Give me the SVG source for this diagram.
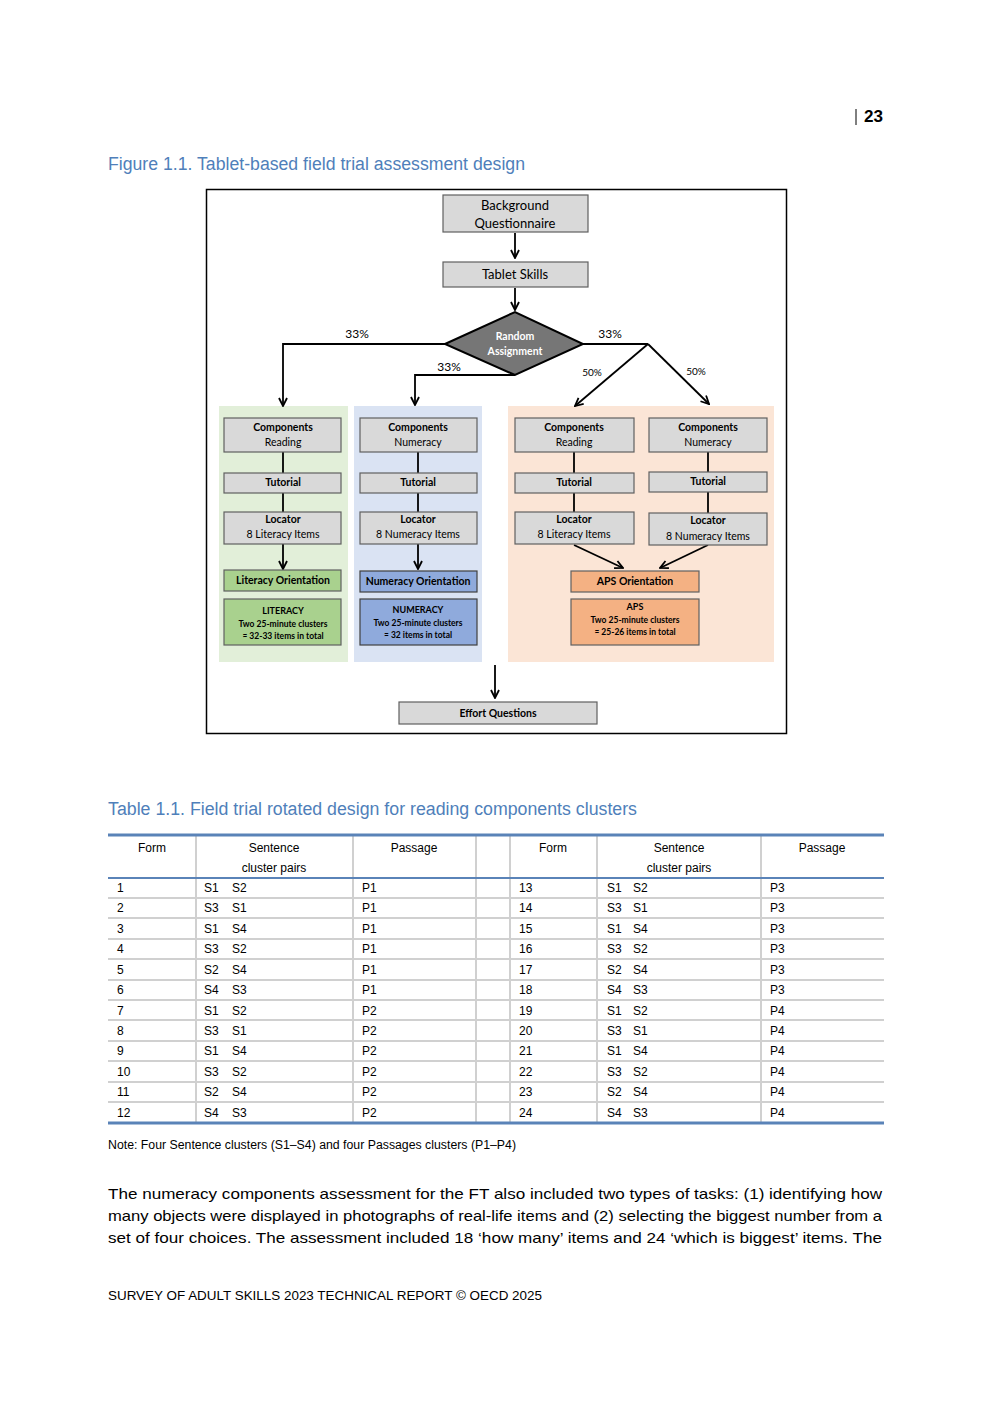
<svg xmlns="http://www.w3.org/2000/svg" width="992" height="1403" viewBox="0 0 992 1403">
<style>
.pg{font-family:"Liberation Sans",Arial,sans-serif;fill:#000}
.ttl{font-family:"Liberation Sans",Arial,sans-serif;font-size:18px;fill:#4f7fba}
.cal{font-family:Lato,"Open Sans",sans-serif;fill:#000}
.box{fill:#d9d9d9;stroke:#606060;stroke-width:1.2}
.ln{stroke:#000;stroke-width:1.8;fill:none}
.tc{font-family:"Liberation Sans",Arial,sans-serif;font-size:12px;fill:#000}
.sep{stroke:#d0d0d0;stroke-width:2}
.rule{stroke:#5a83b8}
</style>
<defs>
<marker id="arr" viewBox="0 0 10 10" refX="9" refY="5" markerWidth="10" markerHeight="10" markerUnits="userSpaceOnUse" orient="auto">
<path d="M1,1 L9,5 L1,9" fill="none" stroke="#000" stroke-width="1.8"/>
</marker>
</defs>
<rect width="992" height="1403" fill="#fff"/>

<!-- page header -->
<line x1="856" y1="109" x2="856" y2="125" stroke="#000" stroke-width="1"/>
<text class="pg" x="864" y="122" font-size="17" font-weight="bold" textLength="19" lengthAdjust="spacingAndGlyphs">23</text>
<text class="ttl" x="108" y="170" textLength="417" lengthAdjust="spacingAndGlyphs">Figure 1.1. Tablet-based field trial assessment design</text>

<!-- diagram frame -->
<rect x="206.5" y="189.5" width="580" height="544" fill="none" stroke="#000" stroke-width="1.5"/>

<!-- panels -->
<rect x="219" y="406" width="129" height="256" fill="#e2efd9"/>
<rect x="354" y="406" width="128" height="256" fill="#dae3f3"/>
<rect x="508" y="406" width="266" height="256" fill="#fbe5d6"/>

<g id="connectors">
<line class="ln" x1="515" y1="233" x2="515" y2="258" marker-end="url(#arr)"/>
<line class="ln" x1="515" y1="288" x2="515" y2="310" marker-end="url(#arr)"/>
<polyline class="ln" points="445,344 283,344 283,406" marker-end="url(#arr)"/>
<polyline class="ln" points="515,375 415,375 415,405" marker-end="url(#arr)"/>
<polyline class="ln" points="583,344 648,344"/>
<line class="ln" x1="648" y1="344" x2="575" y2="406" marker-end="url(#arr)"/>
<line class="ln" x1="648" y1="344" x2="709" y2="404" marker-end="url(#arr)"/>
<line class="ln" x1="283" y1="452" x2="283" y2="473"/>
<line class="ln" x1="283" y1="493" x2="283" y2="512"/>
<line class="ln" x1="283" y1="544" x2="283" y2="569" marker-end="url(#arr)"/>
<line class="ln" x1="418" y1="452" x2="418" y2="473"/>
<line class="ln" x1="418" y1="493" x2="418" y2="512"/>
<line class="ln" x1="418" y1="544" x2="418" y2="569" marker-end="url(#arr)"/>
<line class="ln" x1="574" y1="452" x2="574" y2="473"/>
<line class="ln" x1="574" y1="493" x2="574" y2="512"/>
<line class="ln" x1="708" y1="452" x2="708" y2="472"/>
<line class="ln" x1="708" y1="492" x2="708" y2="513"/>
<line class="ln" x1="574" y1="545" x2="623" y2="568" marker-end="url(#arr)"/>
<line class="ln" x1="708" y1="545" x2="660" y2="568" marker-end="url(#arr)"/>
<line class="ln" x1="495" y1="665" x2="495" y2="698" marker-end="url(#arr)"/>
<text class="cal" x="357" y="338" font-size="12" text-anchor="middle">33%</text>
<text class="cal" x="449" y="371" font-size="12" text-anchor="middle">33%</text>
<text class="cal" x="610" y="338" font-size="12" text-anchor="middle">33%</text>
<text class="cal" x="592" y="376" font-size="10" text-anchor="middle">50%</text>
<text class="cal" x="696" y="375" font-size="10" text-anchor="middle">50%</text>
</g>

<g id="bg-questionnaire">
<rect class="box" x="443" y="195" width="145" height="37"/>
<text class="cal" x="515" y="210" font-size="13" text-anchor="middle">Background</text>
<text class="cal" x="515" y="228" font-size="13" text-anchor="middle">Questionnaire</text>
</g>
<g id="tablet-skills">
<rect class="box" x="443" y="262" width="145" height="25"/>
<text class="cal" x="515" y="279" font-size="13" text-anchor="middle">Tablet Skills</text>
</g>
<g id="random-assignment">
<polygon points="445,344 515,312 583,344 515,375" fill="#767676" stroke="#000" stroke-width="2"/>
<text class="cal" x="515" y="340" font-size="10.5" font-weight="bold" text-anchor="middle" style="fill:#fff">Random</text>
<text class="cal" x="515" y="355" font-size="10.5" font-weight="bold" text-anchor="middle" style="fill:#fff">Assignment</text>
</g>

<!-- literacy column -->
<g id="lit-components">
<rect class="box" x="224" y="418" width="117" height="34"/>
<text class="cal" x="283" y="431" font-size="10.5" font-weight="bold" text-anchor="middle">Components</text>
<text class="cal" x="283" y="446" font-size="10.5" text-anchor="middle">Reading</text>
</g>
<g id="lit-tutorial">
<rect class="box" x="224" y="473" width="117" height="20"/>
<text class="cal" x="283" y="486" font-size="10.5" font-weight="bold" text-anchor="middle">Tutorial</text>
</g>
<g id="lit-locator">
<rect class="box" x="224" y="512" width="117" height="32"/>
<text class="cal" x="283" y="523" font-size="10.5" font-weight="bold" text-anchor="middle">Locator</text>
<text class="cal" x="283" y="538" font-size="10.5" text-anchor="middle">8 Literacy Items</text>
</g>
<g id="lit-orientation">
<rect x="224" y="570" width="117" height="21" fill="#a9d18e" stroke="#606060" stroke-width="1.2"/>
<text class="cal" x="283" y="584" font-size="10.5" font-weight="bold" text-anchor="middle">Literacy Orientation</text>
</g>
<g id="literacy">
<rect x="224" y="599" width="117" height="46" fill="#a9d18e" stroke="#606060" stroke-width="1.2"/>
<text class="cal" x="283" y="614" font-size="9" font-weight="bold" text-anchor="middle">LITERACY</text>
<text class="cal" x="283" y="627" font-size="8.5" font-weight="bold" text-anchor="middle">Two 25-minute clusters</text>
<text class="cal" x="283" y="639" font-size="8.5" font-weight="bold" text-anchor="middle">≈ 32-33 items in total</text>
</g>

<!-- numeracy column -->
<g id="num-components">
<rect class="box" x="360" y="418" width="117" height="34"/>
<text class="cal" x="418" y="431" font-size="10.5" font-weight="bold" text-anchor="middle">Components</text>
<text class="cal" x="418" y="446" font-size="10.5" text-anchor="middle">Numeracy</text>
</g>
<g id="num-tutorial">
<rect class="box" x="360" y="473" width="117" height="20"/>
<text class="cal" x="418" y="486" font-size="10.5" font-weight="bold" text-anchor="middle">Tutorial</text>
</g>
<g id="num-locator">
<rect class="box" x="360" y="512" width="117" height="32"/>
<text class="cal" x="418" y="523" font-size="10.5" font-weight="bold" text-anchor="middle">Locator</text>
<text class="cal" x="418" y="538" font-size="10.5" text-anchor="middle">8 Numeracy Items</text>
</g>
<g id="num-orientation">
<rect x="360" y="571" width="117" height="21" fill="#8faadc" stroke="#404040" stroke-width="1.2"/>
<text class="cal" x="418" y="585" font-size="10.5" font-weight="bold" text-anchor="middle">Numeracy Orientation</text>
</g>
<g id="numeracy">
<rect x="360" y="599" width="117" height="46" fill="#8faadc" stroke="#404040" stroke-width="1.2"/>
<text class="cal" x="418" y="613" font-size="9" font-weight="bold" text-anchor="middle">NUMERACY</text>
<text class="cal" x="418" y="626" font-size="8.5" font-weight="bold" text-anchor="middle">Two 25-minute clusters</text>
<text class="cal" x="418" y="638" font-size="8.5" font-weight="bold" text-anchor="middle">≈ 32 items in total</text>
</g>

<!-- APS column -->
<g id="aps-read-components">
<rect class="box" x="515" y="418" width="119" height="34"/>
<text class="cal" x="574" y="431" font-size="10.5" font-weight="bold" text-anchor="middle">Components</text>
<text class="cal" x="574" y="446" font-size="10.5" text-anchor="middle">Reading</text>
</g>
<g id="aps-read-tutorial">
<rect class="box" x="515" y="473" width="119" height="20"/>
<text class="cal" x="574" y="486" font-size="10.5" font-weight="bold" text-anchor="middle">Tutorial</text>
</g>
<g id="aps-read-locator">
<rect class="box" x="515" y="512" width="119" height="32"/>
<text class="cal" x="574" y="523" font-size="10.5" font-weight="bold" text-anchor="middle">Locator</text>
<text class="cal" x="574" y="538" font-size="10.5" text-anchor="middle">8 Literacy Items</text>
</g>
<g id="aps-num-components">
<rect class="box" x="649" y="418" width="118" height="34"/>
<text class="cal" x="708" y="431" font-size="10.5" font-weight="bold" text-anchor="middle">Components</text>
<text class="cal" x="708" y="446" font-size="10.5" text-anchor="middle">Numeracy</text>
</g>
<g id="aps-num-tutorial">
<rect class="box" x="649" y="472" width="118" height="20"/>
<text class="cal" x="708" y="485" font-size="10.5" font-weight="bold" text-anchor="middle">Tutorial</text>
</g>
<g id="aps-num-locator">
<rect class="box" x="649" y="513" width="118" height="32"/>
<text class="cal" x="708" y="524" font-size="10.5" font-weight="bold" text-anchor="middle">Locator</text>
<text class="cal" x="708" y="540" font-size="10.5" text-anchor="middle">8 Numeracy Items</text>
</g>
<g id="aps-orientation">
<rect x="571" y="571" width="128" height="21" fill="#f4b183" stroke="#606060" stroke-width="1.2"/>
<text class="cal" x="635" y="585" font-size="10.5" font-weight="bold" text-anchor="middle">APS Orientation</text>
</g>
<g id="aps">
<rect x="571" y="599" width="128" height="46" fill="#f4b183" stroke="#606060" stroke-width="1.2"/>
<text class="cal" x="635" y="610" font-size="9" font-weight="bold" text-anchor="middle">APS</text>
<text class="cal" x="635" y="623" font-size="8.5" font-weight="bold" text-anchor="middle">Two 25-minute clusters</text>
<text class="cal" x="635" y="635" font-size="8.5" font-weight="bold" text-anchor="middle">≈ 25-26 items in total</text>
</g>
<g id="effort">
<rect class="box" x="399" y="702" width="198" height="22"/>
<text class="cal" x="498" y="717" font-size="10.5" font-weight="bold" text-anchor="middle">Effort Questions</text>
</g>

<!-- table -->
<text class="ttl" x="108" y="815" textLength="529" lengthAdjust="spacingAndGlyphs">Table 1.1. Field trial rotated design for reading components clusters</text>
<g id="table-grid">
<line class="sep" x1="196" y1="836" x2="196" y2="1122"/>
<line class="sep" x1="353" y1="836" x2="353" y2="1122"/>
<line class="sep" x1="476" y1="836" x2="476" y2="1122"/>
<line class="sep" x1="510" y1="836" x2="510" y2="1122"/>
<line class="sep" x1="597" y1="836" x2="597" y2="1122"/>
<line class="sep" x1="761" y1="836" x2="761" y2="1122"/>
<line class="sep" x1="108" y1="898" x2="884" y2="898"/>
<line class="sep" x1="108" y1="918" x2="884" y2="918"/>
<line class="sep" x1="108" y1="939" x2="884" y2="939"/>
<line class="sep" x1="108" y1="959" x2="884" y2="959"/>
<line class="sep" x1="108" y1="980" x2="884" y2="980"/>
<line class="sep" x1="108" y1="1000" x2="884" y2="1000"/>
<line class="sep" x1="108" y1="1020" x2="884" y2="1020"/>
<line class="sep" x1="108" y1="1041" x2="884" y2="1041"/>
<line class="sep" x1="108" y1="1061" x2="884" y2="1061"/>
<line class="sep" x1="108" y1="1082" x2="884" y2="1082"/>
<line class="sep" x1="108" y1="1102" x2="884" y2="1102"/>
<line class="rule" x1="108" y1="835" x2="884" y2="835" stroke-width="3"/>
<line class="rule" x1="108" y1="878" x2="884" y2="878" stroke-width="2"/>
<line class="rule" x1="108" y1="1123" x2="884" y2="1123" stroke-width="3"/>
</g>
<g id="table-header">
<text class="tc" x="152" y="852" text-anchor="middle">Form</text>
<text class="tc" x="274" y="852" text-anchor="middle">Sentence</text>
<text class="tc" x="274" y="872" text-anchor="middle">cluster pairs</text>
<text class="tc" x="414" y="852" text-anchor="middle">Passage</text>
<text class="tc" x="553" y="852" text-anchor="middle">Form</text>
<text class="tc" x="679" y="852" text-anchor="middle">Sentence</text>
<text class="tc" x="679" y="872" text-anchor="middle">cluster pairs</text>
<text class="tc" x="822" y="852" text-anchor="middle">Passage</text>
</g>
<g id="table-body">
<text class="tc" x="117" y="892">1</text><text class="tc" x="204" y="892">S1</text><text class="tc" x="232" y="892">S2</text><text class="tc" x="362" y="892">P1</text>
<text class="tc" x="519" y="892">13</text><text class="tc" x="607" y="892">S1</text><text class="tc" x="633" y="892">S2</text><text class="tc" x="770" y="892">P3</text>
<text class="tc" x="117" y="912">2</text><text class="tc" x="204" y="912">S3</text><text class="tc" x="232" y="912">S1</text><text class="tc" x="362" y="912">P1</text>
<text class="tc" x="519" y="912">14</text><text class="tc" x="607" y="912">S3</text><text class="tc" x="633" y="912">S1</text><text class="tc" x="770" y="912">P3</text>
<text class="tc" x="117" y="933">3</text><text class="tc" x="204" y="933">S1</text><text class="tc" x="232" y="933">S4</text><text class="tc" x="362" y="933">P1</text>
<text class="tc" x="519" y="933">15</text><text class="tc" x="607" y="933">S1</text><text class="tc" x="633" y="933">S4</text><text class="tc" x="770" y="933">P3</text>
<text class="tc" x="117" y="953">4</text><text class="tc" x="204" y="953">S3</text><text class="tc" x="232" y="953">S2</text><text class="tc" x="362" y="953">P1</text>
<text class="tc" x="519" y="953">16</text><text class="tc" x="607" y="953">S3</text><text class="tc" x="633" y="953">S2</text><text class="tc" x="770" y="953">P3</text>
<text class="tc" x="117" y="974">5</text><text class="tc" x="204" y="974">S2</text><text class="tc" x="232" y="974">S4</text><text class="tc" x="362" y="974">P1</text>
<text class="tc" x="519" y="974">17</text><text class="tc" x="607" y="974">S2</text><text class="tc" x="633" y="974">S4</text><text class="tc" x="770" y="974">P3</text>
<text class="tc" x="117" y="994">6</text><text class="tc" x="204" y="994">S4</text><text class="tc" x="232" y="994">S3</text><text class="tc" x="362" y="994">P1</text>
<text class="tc" x="519" y="994">18</text><text class="tc" x="607" y="994">S4</text><text class="tc" x="633" y="994">S3</text><text class="tc" x="770" y="994">P3</text>
<text class="tc" x="117" y="1015">7</text><text class="tc" x="204" y="1015">S1</text><text class="tc" x="232" y="1015">S2</text><text class="tc" x="362" y="1015">P2</text>
<text class="tc" x="519" y="1015">19</text><text class="tc" x="607" y="1015">S1</text><text class="tc" x="633" y="1015">S2</text><text class="tc" x="770" y="1015">P4</text>
<text class="tc" x="117" y="1035">8</text><text class="tc" x="204" y="1035">S3</text><text class="tc" x="232" y="1035">S1</text><text class="tc" x="362" y="1035">P2</text>
<text class="tc" x="519" y="1035">20</text><text class="tc" x="607" y="1035">S3</text><text class="tc" x="633" y="1035">S1</text><text class="tc" x="770" y="1035">P4</text>
<text class="tc" x="117" y="1055">9</text><text class="tc" x="204" y="1055">S1</text><text class="tc" x="232" y="1055">S4</text><text class="tc" x="362" y="1055">P2</text>
<text class="tc" x="519" y="1055">21</text><text class="tc" x="607" y="1055">S1</text><text class="tc" x="633" y="1055">S4</text><text class="tc" x="770" y="1055">P4</text>
<text class="tc" x="117" y="1076">10</text><text class="tc" x="204" y="1076">S3</text><text class="tc" x="232" y="1076">S2</text><text class="tc" x="362" y="1076">P2</text>
<text class="tc" x="519" y="1076">22</text><text class="tc" x="607" y="1076">S3</text><text class="tc" x="633" y="1076">S2</text><text class="tc" x="770" y="1076">P4</text>
<text class="tc" x="117" y="1096">11</text><text class="tc" x="204" y="1096">S2</text><text class="tc" x="232" y="1096">S4</text><text class="tc" x="362" y="1096">P2</text>
<text class="tc" x="519" y="1096">23</text><text class="tc" x="607" y="1096">S2</text><text class="tc" x="633" y="1096">S4</text><text class="tc" x="770" y="1096">P4</text>
<text class="tc" x="117" y="1117">12</text><text class="tc" x="204" y="1117">S4</text><text class="tc" x="232" y="1117">S3</text><text class="tc" x="362" y="1117">P2</text>
<text class="tc" x="519" y="1117">24</text><text class="tc" x="607" y="1117">S4</text><text class="tc" x="633" y="1117">S3</text><text class="tc" x="770" y="1117">P4</text>
</g>
<text class="pg" x="108" y="1149" font-size="12" textLength="408" lengthAdjust="spacingAndGlyphs">Note: Four Sentence clusters (S1–S4) and four Passages clusters (P1–P4)</text>

<!-- body text -->
<text class="pg" x="108" y="1199" font-size="15" textLength="774" lengthAdjust="spacingAndGlyphs">The numeracy components assessment for the FT also included two types of tasks: (1) identifying how</text>
<text class="pg" x="108" y="1221" font-size="15" textLength="774" lengthAdjust="spacingAndGlyphs">many objects were displayed in photographs of real-life items and (2) selecting the biggest number from a</text>
<text class="pg" x="108" y="1243" font-size="15" textLength="774" lengthAdjust="spacingAndGlyphs">set of four choices. The assessment included 18 ‘how many’ items and 24 ‘which is biggest’ items. The</text>
<text class="pg" x="108" y="1300" font-size="13" textLength="434" lengthAdjust="spacingAndGlyphs">SURVEY OF ADULT SKILLS 2023 TECHNICAL REPORT © OECD 2025</text>
</svg>
